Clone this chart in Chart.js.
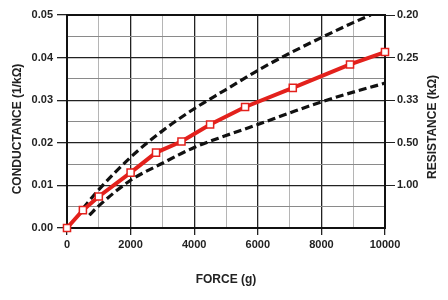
<!DOCTYPE html>
<html>
<head>
<meta charset="utf-8">
<script src="https://cdn.jsdelivr.net/npm/chart.js@4/dist/chart.umd.min.js"></script>
<style>
html,body{margin:0;padding:0;background:#fff;}
#wrap{width:448px;height:300px;}
</style>
</head>
<body>
<div id="wrap"><canvas id="c" width="448" height="300"></canvas></div>
<script>
// ---- data ----
const measuredForce = [0, 500, 1000, 2000, 2800, 3600, 4500, 5600, 7100, 8900, 10000];
const measuredConductance = [0, 0.0042, 0.0074, 0.0130, 0.0177, 0.0203, 0.0243, 0.0284, 0.0329, 0.0384, 0.0413];
const upperForce = [500, 1000, 2000, 3000, 4000, 5000, 6000, 7000, 8000, 9000, 9550];
const upperConductance = [0.0046, 0.0090, 0.0166, 0.0228, 0.0280, 0.0325, 0.0370, 0.0410, 0.0447, 0.0482, 0.0500];
const lowerForce = [700, 1000, 2000, 3000, 4000, 5000, 6000, 7000, 8000, 9000, 10000];
const lowerConductance = [0.0030, 0.0052, 0.0112, 0.0152, 0.0189, 0.0217, 0.0243, 0.0270, 0.0296, 0.0319, 0.0340];
const forceTickLabels = ['0', '2000', '4000', '6000', '8000', '10000'];
const conductanceTickLabels = ['0.00', '0.01', '0.02', '0.03', '0.04', '0.05'];
const resistanceTickLabels = ['', '1.00', '0.50', '0.33', '0.25', '0.20'];

const pts = (xs, ys) => xs.map((x, i) => ({x: x, y: ys[i]}));
const FONT = 'Liberation Sans, Arial, sans-serif';
const isMajorX = v => Math.round(v) % 2000 === 0;
const isMajorY = v => Math.round(v * 1000) % 10 === 0;

const framePlugin = {
  id: 'frame',
  beforeDatasetsDraw(chart) {
    const a = chart.chartArea, ctx = chart.ctx;
    ctx.save();
    ctx.strokeStyle = '#111';
    ctx.lineWidth = 2;
    ctx.strokeRect(a.left, a.top, a.right - a.left, a.bottom - a.top);
    ctx.restore();
  },
  afterDraw(chart) {
    const ctx = chart.ctx;
    ctx.save();
    ctx.fillStyle = '#222';
    ctx.font = 'bold 12px ' + FONT;
    ctx.textAlign = 'center';
    ctx.textBaseline = 'middle';
    ctx.fillText('FORCE (g)', 226, 280);
    ctx.save();
    ctx.translate(18, 129);
    ctx.rotate(-Math.PI / 2);
    ctx.fillText('CONDUCTANCE (1/k\u03A9)', 0, 0);
    ctx.restore();
    ctx.save();
    ctx.translate(433, 127);
    ctx.rotate(-Math.PI / 2);
    ctx.fillText('RESISTANCE (k\u03A9)', 0, 0);
    ctx.restore();
    ctx.restore();
  }
};

new Chart(document.getElementById('c'), {
  type: 'line',
  data: {
    datasets: [
      {
        label: 'Measured',
        data: pts(measuredForce, measuredConductance),
        borderColor: '#e3211c',
        borderWidth: 4,
        pointStyle: 'rect',
        pointRadius: 5,
        pointBackgroundColor: '#ffffff',
        pointBorderColor: '#e3211c',
        pointBorderWidth: 1.5,
        tension: 0,
        clip: false,
        order: 0
      },
      {
        label: 'Upper',
        data: pts(upperForce, upperConductance),
        borderColor: '#111',
        borderWidth: 3.2,
        borderDash: [8, 4],
        pointRadius: 0,
        cubicInterpolationMode: 'monotone',
        order: 1
      },
      {
        label: 'Lower',
        data: pts(lowerForce, lowerConductance),
        borderColor: '#111',
        borderWidth: 3.2,
        borderDash: [8, 4],
        pointRadius: 0,
        cubicInterpolationMode: 'monotone',
        order: 1
      }
    ]
  },
  options: {
    responsive: false,
    animation: false,
    devicePixelRatio: 1,
    layout: {padding: {top: 15, left: 0, right: 0, bottom: 0}},
    plugins: {legend: {display: false}, tooltip: {enabled: false}},
    scales: {
      x: {
        type: 'linear', min: 0, max: 10000,
        afterFit(s) { s.height = 72; },
        border: {display: false},
        grid: {
          color: c => isMajorX(c.tick.value) ? '#222' : '#b5b5b5',
          lineWidth: c => isMajorX(c.tick.value) ? 1.3 : 1,
          tickColor: c => isMajorX(c.tick.value) ? '#222' : 'rgba(0,0,0,0)',
          tickLength: 7
        },
        ticks: {
          stepSize: 1000, autoSkip: false, maxRotation: 0, padding: 3,
          color: '#222', font: {family: FONT, size: 11, weight: 'bold'},
          callback: v => isMajorX(v) ? forceTickLabels[Math.round(v / 2000)] : ''
        }
      },
      y: {
        type: 'linear', position: 'left', min: 0, max: 0.05,
        afterFit(s) { s.width = 67; },
        border: {display: false},
        grid: {
          color: c => isMajorY(c.tick.value) ? '#222' : '#8a8a8a',
          lineWidth: c => isMajorY(c.tick.value) ? 1.3 : 1,
          tickColor: c => isMajorY(c.tick.value) ? '#222' : 'rgba(0,0,0,0)',
          tickLength: 10
        },
        ticks: {
          stepSize: 0.005, autoSkip: false, padding: 4,
          color: '#222', font: {family: FONT, size: 11, weight: 'bold'},
          callback: v => isMajorY(v) ? conductanceTickLabels[Math.round(v * 100)] : ''
        }
      },
      y2: {
        type: 'linear', position: 'right', min: 0, max: 0.05,
        afterFit(s) { s.width = 63; },
        border: {display: false},
        grid: {
          drawOnChartArea: false,
          tickColor: c => (isMajorY(c.tick.value) && c.tick.value > 0.001) ? '#222' : 'rgba(0,0,0,0)',
          tickLength: 10
        },
        ticks: {
          stepSize: 0.01, autoSkip: false, padding: 2,
          color: '#222', font: {family: FONT, size: 11, weight: 'bold'},
          callback: v => resistanceTickLabels[Math.round(v * 100)]
        }
      }
    }
  },
  plugins: [framePlugin]
});
</script>
</body>
</html>
